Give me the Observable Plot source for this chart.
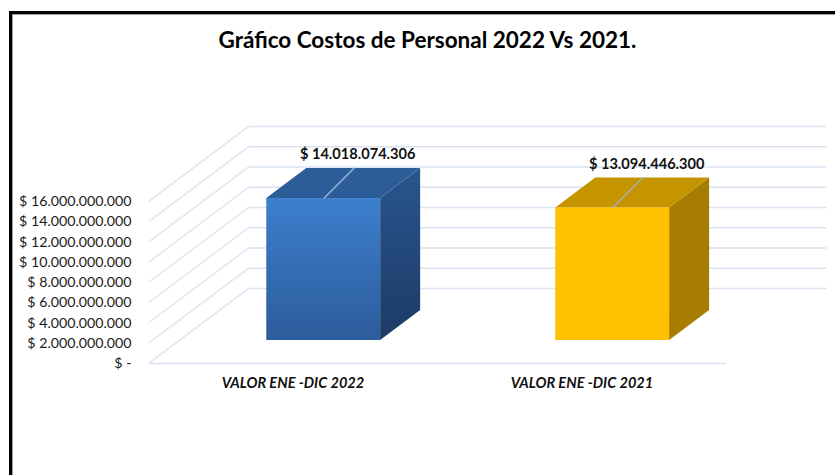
<!DOCTYPE html>
<html><head><meta charset="utf-8">
<script src="https://cdn.jsdelivr.net/npm/d3@7"></script>
<script src="https://cdn.jsdelivr.net/npm/@observablehq/plot@0.6"></script>
<style>
html,body{margin:0;padding:0;background:#fff;width:835px;height:475px;overflow:hidden;}
#frame{position:absolute;left:9px;top:11px;right:0;bottom:0;border-left:3px solid #000;border-top:3px solid #000;box-shadow:inset 1px 1px 0 #999;}
#title{position:absolute;left:0;top:26px;width:855px;text-align:center;font:bold 22.5px Lato, sans-serif;color:#000;}
#chart{position:absolute;left:0;top:60px;}
</style></head><body>
<div id="frame"></div>
<div id="title"></div>
<div id="chart"></div>
<script>
// ---- data ----
const title = "Gráfico Costos de Personal 2022 Vs 2021.";
const categories = ["VALOR ENE -DIC 2022", "VALOR ENE -DIC 2021"];
const values = [14018074306, 13094446300];
const valueLabels = ["$ 14.018.074.306", "$ 13.094.446.300"];
const yTicks = [0, 2e9, 4e9, 6e9, 8e9, 10e9, 12e9, 14e9, 16e9];
const yTickLabels = ["$ -", "$ 2.000.000.000", "$ 4.000.000.000", "$ 6.000.000.000", "$ 8.000.000.000",
  "$ 10.000.000.000", "$ 12.000.000.000", "$ 14.000.000.000", "$ 16.000.000.000"];

// ---- styles / layout ----
const frontColors = ["url(#gBlueFront)", "#ffc000"];
const sideColors = ["url(#gBlueSide)", "#a67d00"];
const topColors = ["#2c5d99", "#c59500"];
const gridColor = "#d9e3f2";
const W = 835, H = 415;
const xDomain = [0, categories.length], xRange = [148, 726];
const yDomain = [0, 16e9], yRange = [303, 141];
const kx = (xRange[1] - xRange[0]) / (xDomain[1] - xDomain[0]);
const ky = (yRange[0] - yRange[1]) / (yDomain[1] - yDomain[0]);
const depthPx = [100, 75];
const DX = depthPx[0] / kx, DY = depthPx[1] / ky;
const zFront = 0.307, zBack = 0.707, halfW = 0.197;

document.getElementById("title").textContent = title;

const bars = categories.map((c, i) => ({cat: c, i, v: values[i], label: valueLabels[i], u: i + 0.5}));

function para(xl, xr, base, z0, z1) {
  return [
    {x: xl + z0 * DX, y1: base + z0 * DY, y2: base + z0 * DY},
    {x: xl + z1 * DX, y1: base + z0 * DY, y2: base + z1 * DY},
    {x: xr + z0 * DX, y1: base + z0 * DY, y2: base + z1 * DY},
    {x: xr + z1 * DX, y1: base + z1 * DY, y2: base + z1 * DY}
  ];
}

const marks = [];
// back wall gridlines
marks.push(Plot.link(yTicks, {x1: () => xDomain[0] + DX, x2: () => xDomain[1] + DX, y1: v => v + DY, y2: v => v + DY, stroke: gridColor, strokeWidth: 1.3}));
// left wall diagonals
marks.push(Plot.link(yTicks, {x1: () => xDomain[0], x2: () => xDomain[0] + DX, y1: v => v, y2: v => v + DY, stroke: gridColor, strokeWidth: 1.3}));
// floor front edge
marks.push(Plot.link([0], {x1: () => xDomain[0], x2: () => xDomain[1], y1: v => v, y2: v => v, stroke: gridColor, strokeWidth: 1.3}));

bars.forEach((b, i) => {
  const xl = b.u - halfW, xr = b.u + halfW;
  // shadow
  marks.push(Plot.area(para(xl - 9 / kx, xr + 12 / kx, -2 / ky, zFront, zBack), {x1: "x", y1: "y1", y2: "y2", fill: "#444", fillOpacity: 0.6, ariaLabel: "shadow"}));
  // side face
  marks.push(Plot.area([
    {x: xr + zFront * DX, y1: zFront * DY, y2: b.v + zFront * DY},
    {x: xr + zBack * DX, y1: zBack * DY, y2: b.v + zBack * DY}
  ], {x1: "x", y1: "y1", y2: "y2", fill: sideColors[i]}));
  // top face
  marks.push(Plot.area(para(xl, xr, b.v, zFront, zBack), {x1: "x", y1: "y1", y2: "y2", fill: topColors[i]}));
  // front face
  marks.push(Plot.rect([b], {x1: d => xl + zFront * DX, x2: d => xr + zFront * DX, y1: d => zFront * DY, y2: d => d.v + zFront * DY, fill: frontColors[i]}));
});

// leader lines
marks.push(Plot.link(bars, {
  x1: d => d.u + zFront * DX, y1: d => d.v + zFront * DY,
  x2: d => d.u + zFront * DX + 31 / kx, y2: d => d.v + zFront * DY + 31 / ky,
  stroke: "#9db7d8", strokeWidth: 1.3
}));
// value labels
marks.push(Plot.text(bars, {
  x: d => d.u + zFront * DX + 34 / kx, y: d => d.v + zFront * DY + 44 / ky,
  text: "label", fontWeight: "bold", fontSize: 14.6, fill: "#111", lineAnchor: "middle"
}));
// category labels
marks.push(Plot.text(bars, {
  x: "u", y: () => 0, dy: 20, text: "cat", fontWeight: "bold", fontStyle: "italic", fontSize: 14.6, fill: "#111", lineAnchor: "middle"
}));

const chart = Plot.plot({
  width: W, height: H,
  marginLeft: xRange[0], marginRight: W - xRange[1],
  marginTop: yRange[1], marginBottom: H - yRange[0],
  x: {domain: xDomain, range: xRange, axis: null},
  y: {domain: yDomain, range: yRange, ticks: yTicks, tickFormat: d => yTickLabels[yTicks.indexOf(d)], tickSize: 0, tickPadding: 17, label: null},
  style: {fontFamily: "Lato, sans-serif", fontSize: "14.2px", color: "#1a1a1a", background: "transparent", overflow: "visible"},
  marks
});

const svg = d3.select(chart.tagName === "svg" ? chart : chart.querySelector("svg"));
const defs = svg.insert("defs", ":first-child");
const g1 = defs.append("linearGradient").attr("id", "gBlueFront").attr("x1", 0).attr("y1", 0).attr("x2", 0).attr("y2", 1);
g1.append("stop").attr("offset", 0).attr("stop-color", "#3d7fcd");
g1.append("stop").attr("offset", 1).attr("stop-color", "#2c5c9b");
const g2 = defs.append("linearGradient").attr("id", "gBlueSide").attr("x1", 0).attr("y1", 0).attr("x2", 0).attr("y2", 1);
g2.append("stop").attr("offset", 0).attr("stop-color", "#29558e");
g2.append("stop").attr("offset", 1).attr("stop-color", "#1d3b66");
const f = defs.append("filter").attr("id", "blur").attr("x", "-20%").attr("y", "-20%").attr("width", "140%").attr("height", "140%");
f.append("feGaussianBlur").attr("stdDeviation", 2.2);
svg.selectAll('g[aria-label="shadow"]').attr("filter", "url(#blur)");

document.getElementById("chart").appendChild(chart);
</script>
</body></html>
